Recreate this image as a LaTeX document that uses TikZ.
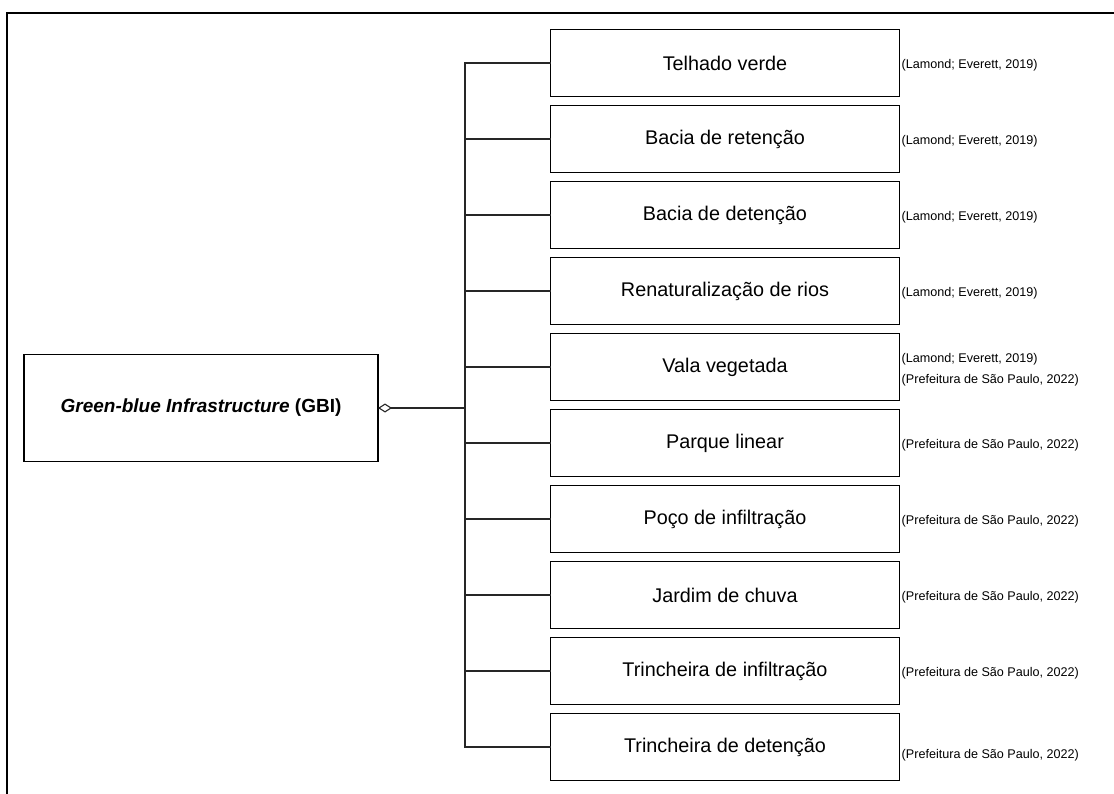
\documentclass[tikz,border=0pt]{standalone}
\usepackage{fontspec}
\setmainfont{Liberation Sans}
\usetikzlibrary{arrows.meta,positioning}

\begin{document}
\begin{tikzpicture}[
    x=1pt, y=-1pt,
    font=\fontsize{19}{23}\selectfont,
    item/.style={rectangle, draw=black, line width=1.4pt, outer sep=0pt,
      minimum width=349pt, minimum height=67pt, align=center, inner sep=2pt,
      font=\fontsize{19.8}{23}\selectfont},
    root/.style={rectangle, draw=black, line width=1.4pt, outer sep=0pt,
      minimum width=354pt, minimum height=107pt, align=center},
    cite/.style={anchor=west, font=\fontsize{12.6}{21}\selectfont, align=left,
      inner sep=0pt, xshift=2pt, yshift=-2.5pt},
    link/.style={line width=1.1pt, draw=black!85},
    frame/.style={line width=1.8pt, draw=black}
  ]
  \useasboundingbox (0,0) rectangle (1114,794);
  \draw[frame] (7,805) -- (7,13) -- (1125,13);
  % GBI box and the hub of the tree
  \node[root] (gbi) at (201,408) {\textbf{\textit{Green-blue Infrastructure} (GBI)}};
  \coordinate (hub) at (465,408);
  % the ten kinds
  \node[item] (telhado) at (725,63) {Telhado verde};
  \node[item, below=9pt of telhado] (retencao) {Bacia de retenção};
  \node[item, below=9pt of retencao] (detencao) {Bacia de detenção};
  \node[item, below=9pt of detencao] (rios) {Renaturalização de rios};
  \node[item, below=9pt of rios] (vala) {Vala vegetada};
  \node[item, below=9pt of vala] (parque) {Parque linear};
  \node[item, below=9pt of parque] (poco) {Poço de infiltração};
  \node[item, below=9pt of poco] (jardim) {Jardim de chuva};
  \node[item, below=9pt of jardim] (trinf) {Trincheira de infiltração};
  \node[item, below=9pt of trinf] (trdet) {Trincheira de detenção};
  % sources
  \node[cite] at (telhado.east) {(Lamond; Everett, 2019)};
  \node[cite] at (retencao.east) {(Lamond; Everett, 2019)};
  \node[cite] at (detencao.east) {(Lamond; Everett, 2019)};
  \node[cite] at (rios.east) {(Lamond; Everett, 2019)};
  \node[cite] at (vala.east) {(Lamond; Everett, 2019)\\(Prefeitura de São Paulo, 2022)};
  \node[cite] at (parque.east) {(Prefeitura de São Paulo, 2022)};
  \node[cite] at (poco.east) {(Prefeitura de São Paulo, 2022)};
  \node[cite] at (jardim.east) {(Prefeitura de São Paulo, 2022)};
  \node[cite] at (trinf.east) {(Prefeitura de São Paulo, 2022)};
  \node[cite, yshift=-6pt] at (trdet.east) {(Prefeitura de São Paulo, 2022)};
  % connectors
  \draw[link, -{Diamond[open,length=14pt,width=9pt,line width=1.1pt]}] (hub) -- (gbi.east);
  \draw[link] (hub) |- (telhado.west); \draw[link] (hub) |- (retencao.west);
  \draw[link] (hub) |- (detencao.west); \draw[link] (hub) |- (rios.west);
  \draw[link] (hub) |- (vala.west); \draw[link] (hub) |- (parque.west);
  \draw[link] (hub) |- (poco.west); \draw[link] (hub) |- (jardim.west);
  \draw[link] (hub) |- (trinf.west); \draw[link] (hub) |- (trdet.west);
\end{tikzpicture}
\end{document}
